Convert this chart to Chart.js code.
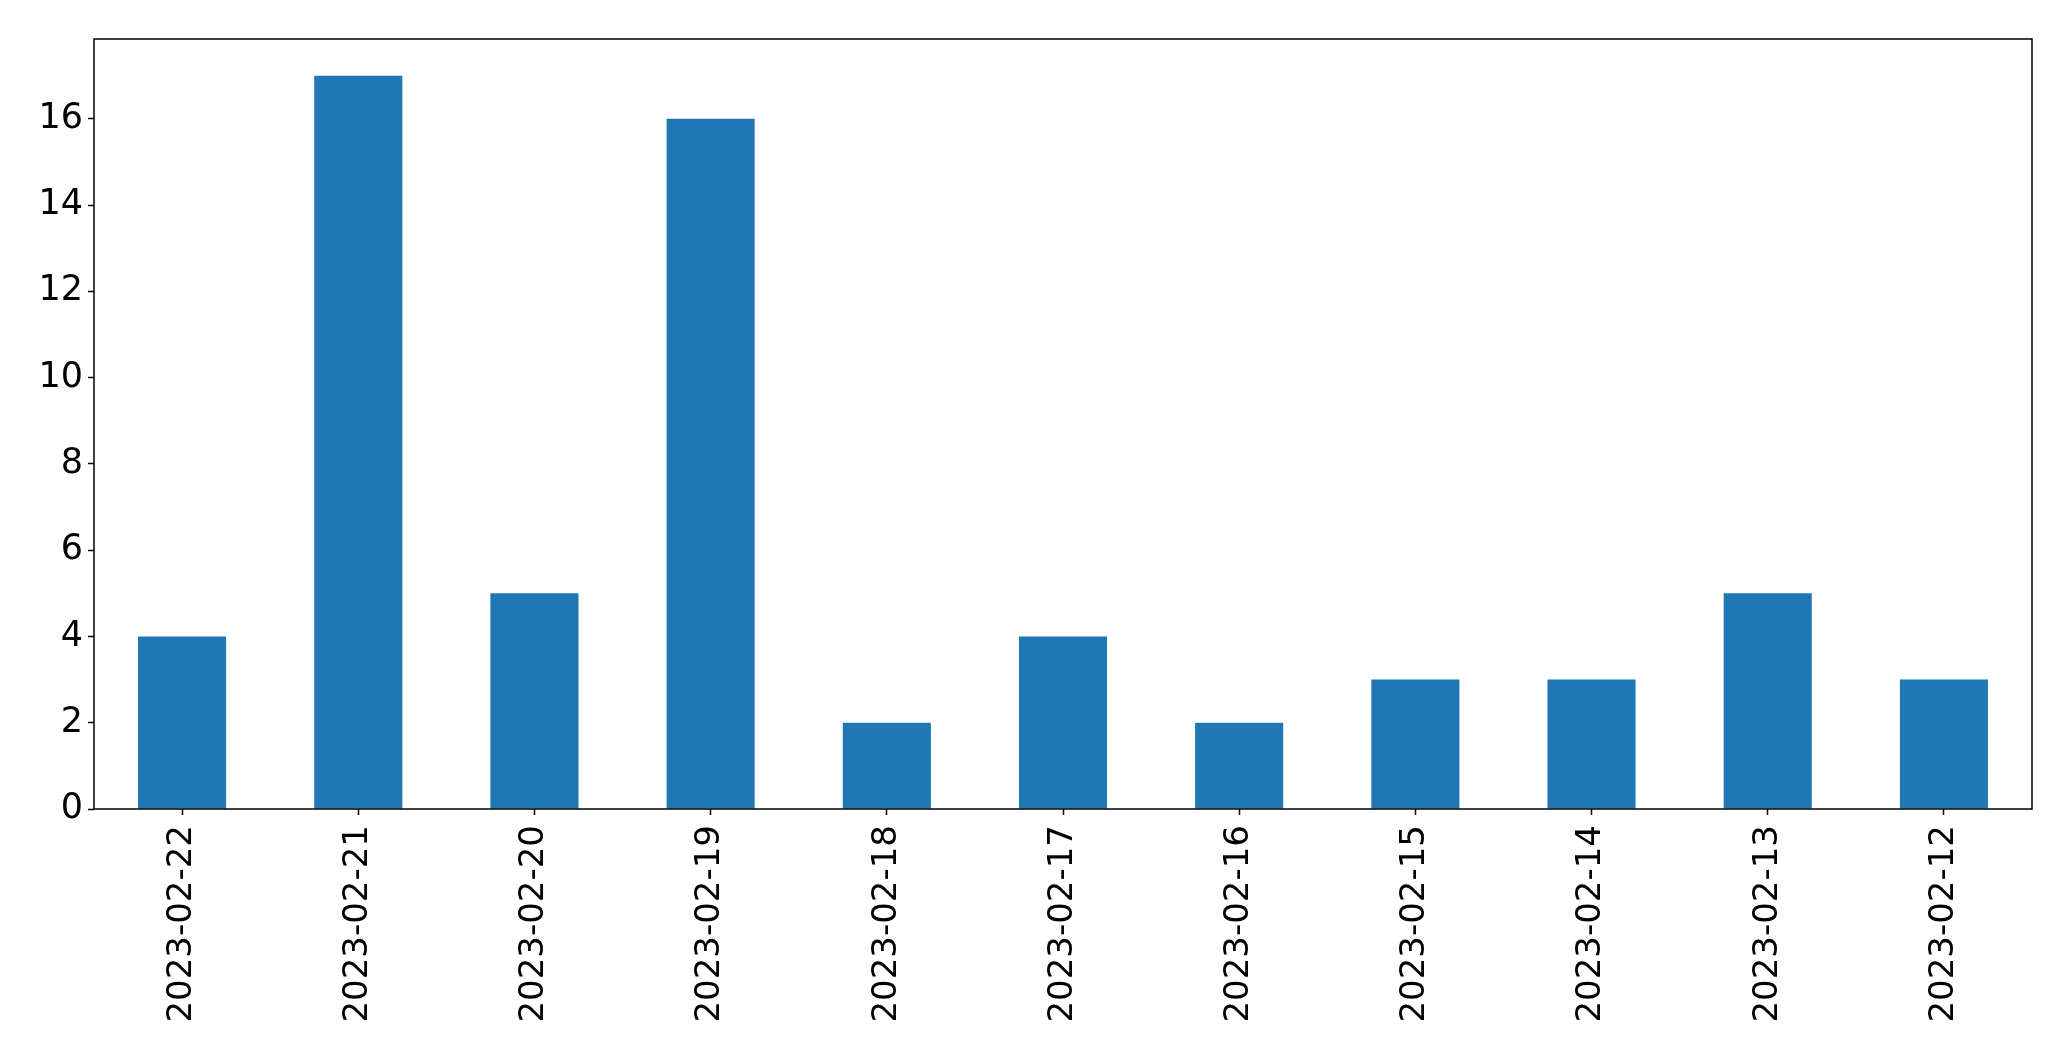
<!DOCTYPE html>
<html>
<head>
<meta charset="utf-8">
<script src="https://cdn.jsdelivr.net/npm/chart.js@4"></script>
<style>
  html, body { margin: 0; padding: 0; background: #fff; }
  #wrap { width: 2071px; height: 1061px; }
</style>
</head>
<body>
<div id="wrap"><canvas id="barChart" width="2071" height="1061"></canvas></div>
<script>
const dates = ['2023-02-22', '2023-02-21', '2023-02-20', '2023-02-19', '2023-02-18', '2023-02-17',
               '2023-02-16', '2023-02-15', '2023-02-14', '2023-02-13', '2023-02-12'];
const counts = [4, 17, 5, 16, 2, 4, 2, 3, 3, 5, 3];
const yTicks = [0, 2, 4, 6, 8, 10, 12, 14, 16];

// frame round the plot area, like the matplotlib spines
const frame = {
    id: 'frame',
    afterDraw(chart) {
        const a = chart.chartArea;
        const ctx = chart.ctx;
        ctx.save();
        ctx.strokeStyle = '#000';
        ctx.lineWidth = 1.5;
        ctx.strokeRect(a.left, a.top, a.right - a.left, a.bottom - a.top);
        ctx.restore();
    }
};

document.addEventListener('DOMContentLoaded', function () {
    const ctx = document.getElementById('barChart').getContext('2d');
    new Chart(ctx, {
        type: 'bar',
        data: {
            labels: dates,
            datasets: [{
                data: counts,
                backgroundColor: '#1f77b4',
                borderWidth: 0,
                barPercentage: 0.5,
                categoryPercentage: 1.0
            }]
        },
        options: {
            responsive: false,
            animation: false,
            layout: { padding: { top: 39, right: 39, left: 0, bottom: 0 } },
            plugins: { legend: { display: false }, tooltip: { enabled: false } },
            scales: {
                x: {
                    grid: { display: true, offset: false, drawOnChartArea: false, tickLength: 6, color: '#000', tickWidth: 1.5 },
                    border: { display: false },
                    ticks: {
                        minRotation: 90, maxRotation: 90, autoSkip: false,
                        color: '#000', padding: 10,
                        font: { family: 'DejaVu Sans', size: 34 }
                    },
                    afterFit: function (axis) { axis.height = 252; }
                },
                y: {
                    min: 0,
                    max: 17.85,
                    grid: { display: true, drawOnChartArea: false, tickLength: 6, color: '#000', tickWidth: 1.5 },
                    border: { display: false },
                    ticks: {
                        stepSize: 2, color: '#000', padding: 5,
                        font: { family: 'DejaVu Sans', size: 35 }
                    },
                    afterBuildTicks: function (axis) {
                        axis.ticks = yTicks.map(function (v) { return { value: v }; });
                    },
                    afterFit: function (axis) { axis.width = 94; }
                }
            }
        },
        plugins: [frame]
    });
});
</script>
</body>
</html>
